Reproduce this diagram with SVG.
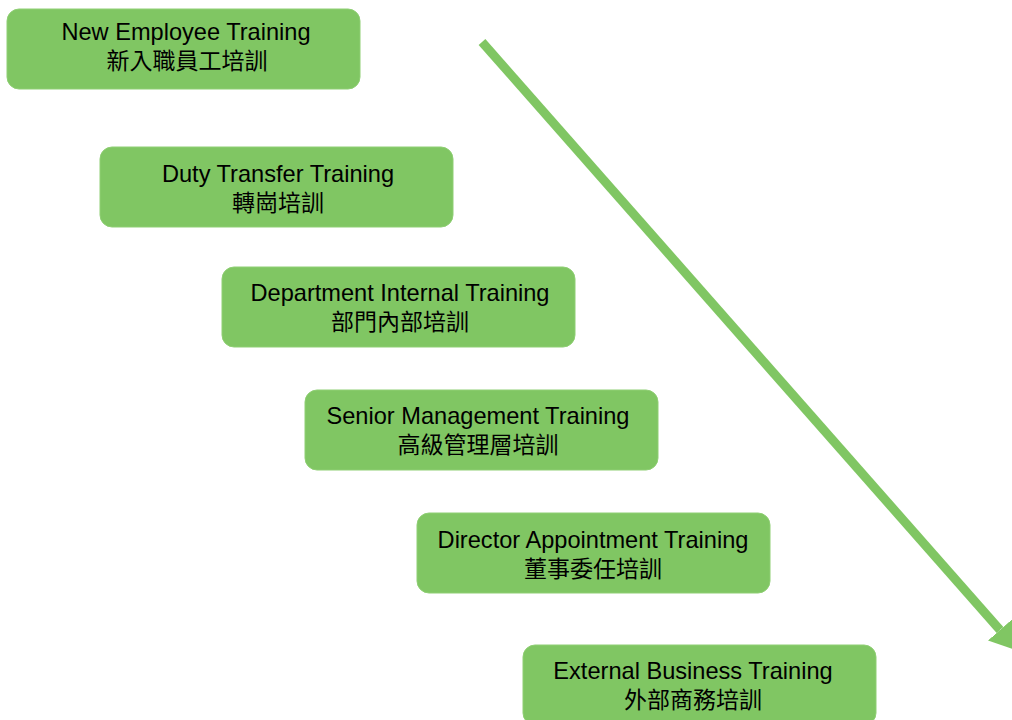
<svg xmlns="http://www.w3.org/2000/svg" width="1012" height="720" viewBox="0 0 1012 720">
<style>
.box{fill:#80c663;stroke:#8fcf74;stroke-width:1}
.en{font-family:"Liberation Sans","Noto Sans",sans-serif;font-size:23.6px;fill:#000;text-anchor:middle}
.zh{font-family:"Noto Sans CJK TC","Noto Sans CJK SC",sans-serif;font-size:23px;fill:#000;text-anchor:middle}
.conn{stroke:#80c663;stroke-width:9;fill:none}
</style>
<defs>
<marker id="ah" markerUnits="userSpaceOnUse" markerWidth="28" markerHeight="32" refX="0" refY="16" orient="auto">
<path d="M0,0 L28,16 L0,32 z" fill="#80c663"/>
</marker>
</defs>
<rect width="1012" height="720" fill="#fff"/>
<g id="connectors">
<line class="conn" x1="482" y1="42" x2="1000" y2="630" marker-end="url(#ah)"/>
</g>
<g id="n1">
<rect class="box" x="7" y="9" width="353" height="80" rx="12"/>
<text class="en" x="186" y="39.5">New Employee Training</text>
<text class="zh" x="187" y="69">新入職員工培訓</text>
</g>
<g id="n2">
<rect class="box" x="100" y="147" width="353" height="80" rx="12"/>
<text class="en" x="278" y="181.5">Duty Transfer Training</text>
<text class="zh" x="278" y="211">轉崗培訓</text>
</g>
<g id="n3">
<rect class="box" x="222" y="267" width="353" height="80" rx="12"/>
<text class="en" x="400" y="300.5">Department Internal Training</text>
<text class="zh" x="400" y="330">部門內部培訓</text>
</g>
<g id="n4">
<rect class="box" x="305" y="390" width="353" height="80" rx="12"/>
<text class="en" x="478" y="423.5">Senior Management Training</text>
<text class="zh" x="478" y="453">高級管理層培訓</text>
</g>
<g id="n5">
<rect class="box" x="417" y="513" width="353" height="80" rx="12"/>
<text class="en" x="593" y="547.5">Director Appointment Training</text>
<text class="zh" x="593" y="577">董事委任培訓</text>
</g>
<g id="n6">
<rect class="box" x="523" y="645" width="353" height="80" rx="12"/>
<text class="en" x="693" y="678.5">External Business Training</text>
<text class="zh" x="693" y="708">外部商務培訓</text>
</g>
</svg>
